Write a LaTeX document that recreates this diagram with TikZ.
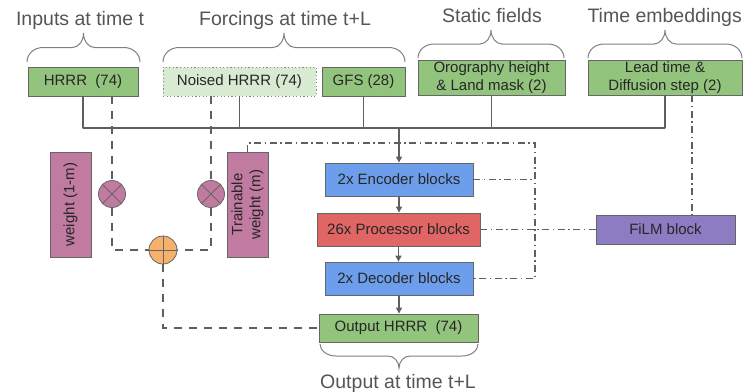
\documentclass[tikz,border=0pt]{standalone}
\usepackage{fontspec}
\setmainfont{Liberation Sans}
\usetikzlibrary{arrows.meta,calc,shadows}

\definecolor{boxgreen}{HTML}{93C47D}
\definecolor{lightgreen}{HTML}{D9EAD3}
\definecolor{encblue}{HTML}{6D9EEB}
\definecolor{procred}{HTML}{E06666}
\definecolor{filmpurple}{HTML}{8E7CC3}
\definecolor{weightpink}{HTML}{C27BA0}
\definecolor{sumorange}{HTML}{F6B26B}
\definecolor{linegray}{HTML}{5F5F5F}
\definecolor{titlegray}{HTML}{555555}
\definecolor{edgegray}{HTML}{666666}

\tikzset{
  blk/.style={draw=edgegray, line width=0.8pt, inner sep=0pt, align=center,
    font=\fontsize{15}{18}\selectfont, text=black!85,
    drop shadow={shadow xshift=0.8pt, shadow yshift=-1.2pt, fill=black, opacity=0.18}},
  flatblk/.style={draw=edgegray!80, line width=0.8pt, inner sep=0pt, align=center,
    font=\fontsize{15}{18}\selectfont, text=black!85},
  title/.style={font=\fontsize{19.5}{22}\selectfont, text=titlegray, anchor=base, inner sep=0pt},
  bus/.style={draw=linegray, line width=1.4pt},
  mixline/.style={draw=linegray, line width=2.4pt, dash pattern=on 8pt off 7pt},
  condline/.style={draw=linegray, line width=1.1pt, dash pattern=on 7pt off 3.5pt on 1.5pt off 3.5pt},
  flow/.style={draw=linegray, line width=1.1pt, -{Triangle[length=6pt,width=6pt]}},
  opcircle/.style={circle, draw=edgegray, line width=0.8pt, minimum size=27pt, inner sep=0pt},
  brc/.style={draw=linegray!80, line width=1pt},
}

% curly brace: left x, right x, y of the ends, y of the tip
\newcommand\curlybrace[4]{%
  \pgfmathsetmacro\cbS{(#4-#3)/2}%
  \pgfmathsetmacro\cbM{#3+\cbS}%
  \pgfmathsetmacro\cbX{(#1+#2)/2}%
  \draw[brc] (#1,#3) .. controls (#1,{#3+0.55*\cbS}) and ({#1+7},\cbM) .. ({#1+16},\cbM)
    -- ({\cbX-11},\cbM) .. controls ({\cbX-5},\cbM) and (\cbX,{\cbM+0.45*\cbS}) .. (\cbX,#4)
    .. controls (\cbX,{\cbM+0.45*\cbS}) and ({\cbX+5},\cbM) .. ({\cbX+11},\cbM)
    -- ({#2-16},\cbM) .. controls ({#2-7},\cbM) and (#2,{#3+0.55*\cbS}) .. (#2,#3);
}

\begin{document}
\begin{tikzpicture}[x=1pt,y=-1pt]
\useasboundingbox (0,0) rectangle (743,391);

% group titles
\node[title] (tin) at (80,25) {Inputs at time t};
\node[title] (tforce) at (285,25) {Forcings at time t+L};
\node[title] (tstatic) at (492,22) {Static fields};
\node[title, anchor=base east] (ttime) at (742,22) {Time embeddings};
\node[title] (tout) at (398,388) {Output at time t+L};

\curlybrace{27}{140}{62}{33}
\curlybrace{163}{405}{62}{33}
\curlybrace{418}{564}{58}{30}
\curlybrace{588}{742}{58}{30}
\curlybrace{320}{478}{344}{368}

% input fields
\node[blk, fill=boxgreen, minimum width=110pt, minimum height=29pt] (hrrr) at (83,81.5) {HRRR~~(74)};
\node[flatblk, fill=lightgreen, dash pattern=on 1.2pt off 2.4pt,
      minimum width=153pt, minimum height=29pt] (noised) at (239.5,81.5) {Noised HRRR (74)};
\node[blk, fill=boxgreen, minimum width=83pt, minimum height=29pt] (gfs) at (363.5,81.5) {GFS (28)};
\node[blk, fill=boxgreen, minimum width=147pt, minimum height=35pt] (oro) at (491.5,77.5) {Orography height\\\& Land mask (2)};
\node[blk, fill=boxgreen, minimum width=154pt, minimum height=35pt] (lead) at (665,77.5) {Lead time \&\\Diffusion step (2)};

% network blocks
\node[blk, fill=encblue, minimum width=148pt, minimum height=33pt] (enc) at (399,179.5) {2x Encoder blocks};
\node[blk, fill=procred, minimum width=163pt, minimum height=33pt] (proc) at (398.5,229.5) {26x Processor blocks};
\node[blk, fill=encblue, minimum width=148pt, minimum height=33pt] (dec) at (399,278.5) {2x Decoder blocks};
\node[blk, fill=boxgreen, minimum width=159pt, minimum height=28pt] (out) at (398.5,328) {Output HRRR~~(74)};
\node[blk, fill=filmpurple, minimum width=139pt, minimum height=29pt] (film) at (665.5,229.5) {FiLM block};

% mixing weights
\node[blk, fill=weightpink, rotate=90, minimum width=105pt, minimum height=41pt] (w1) at (70.5,204.5) {weight (1-m)};
\node[blk, fill=weightpink, rotate=90, minimum width=105pt, minimum height=41pt] (w2) at (247.5,204.5) {Trainable\\weight (m)};

\node[opcircle, fill=weightpink] (mul1) at (112,194) {};
\draw[edgegray, line width=0.8pt] (mul1.45) -- (mul1.225) (mul1.135) -- (mul1.315);
\node[opcircle, fill=weightpink] (mul2) at (211,194) {};
\draw[edgegray, line width=0.8pt] (mul2.45) -- (mul2.225) (mul2.135) -- (mul2.315);
\node[opcircle, fill=sumorange, minimum size=28pt] (add) at (163,250) {};
\draw[edgegray, line width=0.8pt] (add.north) -- (add.south) (add.west) -- (add.east);

% input bus
\coordinate (busL) at (83,128);
\coordinate (busR) at (665,128);
\draw[bus] (hrrr.south) -- (hrrr.south |- busL);
\draw[bus] (noised.south) -- (noised.south |- busL);
\draw[bus] (gfs.south) -- (gfs.south |- busL);
\draw[bus] (oro.south) -- (oro.south |- busL);
\draw[bus] (lead.south) -- (lead.south |- busL);
\draw[bus, line cap=round] (busL) -- (busR);
\draw[flow, line width=1.4pt] (enc.north |- busL) -- (enc.north);

% main flow
\draw[flow] (enc.south) -- (enc.south |- proc.north);
\draw[flow] (proc.south) -- (proc.south |- dec.north);
\draw[flow] (dec.south) -- (dec.south |- out.north);

% weighted skip connection
\draw[mixline] (mul1 |- hrrr.south) -- (mul1.north);
\draw[mixline] (mul1.south) |- (add.west);
\draw[mixline] (mul2 |- noised.south) -- (mul2.north);
\draw[mixline] (mul2.south) |- (add.east);
\draw[mixline] (add.south) |- (out.west);

% conditioning
\coordinate (cond) at (535,143);
\coordinate (tcol) at (692,0);
\draw[condline] (w2.east) |- (cond) |- (dec.east);
\draw[condline] (enc.east) -- (enc.east -| cond);
\draw[condline] (lead.south -| tcol) -- (film.north -| tcol);
\draw[condline] (film.west) -- (proc.east);
\end{tikzpicture}
\end{document}
